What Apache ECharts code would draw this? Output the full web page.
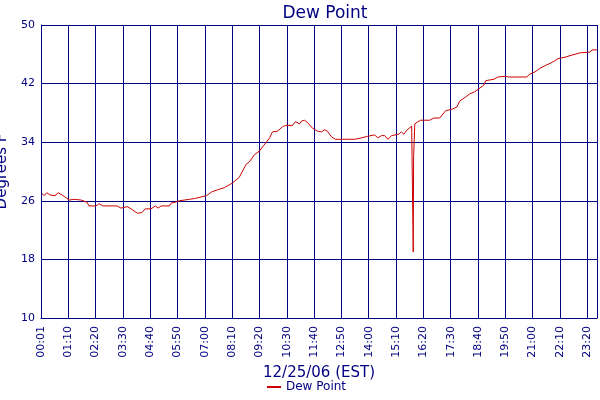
<!DOCTYPE html>
<html><head><meta charset="utf-8">
<script src="https://cdn.jsdelivr.net/npm/echarts@6/dist/echarts.min.js"></script>
<style>html,body{margin:0;padding:0;background:#fff}#c{width:600px;height:400px}</style>
</head><body><div id="c"></div>
<script>
var minutes = [1,8,15,23,36,44,54,62,72,85,103,118,123,141,149,159,195,205,221,231,247,259,267,282,293,300,308,329,334,344,354,380,393,424,437,452,470,490,508,526,534,547,560,570,586,593,606,619,627,645,652,663,668,675,683,696,709,719,727,734,745,755,773,804,822,837,855,863,873,881,889,899,917,924,930,937,950,951,952,953,954,955,957,958,966,973,996,1007,1022,1037,1053,1066,1073,1089,1099,1112,1125,1135,1140,1161,1171,1189,1192,1199,1245,1253,1266,1279,1294,1310,1325,1343,1361,1382,1407,1412,1425];
var dewPoint = [27.1,26.7,27.1,26.8,26.7,27.1,26.8,26.5,26.1,26.2,26.1,25.8,25.3,25.3,25.6,25.3,25.3,25.0,25.2,24.9,24.3,24.4,24.9,24.9,25.3,25.0,25.3,25.3,25.7,25.8,26.0,26.2,26.3,26.7,27.2,27.5,27.8,28.4,29.2,31.0,31.3,32.3,32.8,33.5,34.6,35.4,35.5,36.1,36.3,36.3,36.8,36.5,36.9,37.0,36.7,35.9,35.5,35.4,35.7,35.5,34.7,34.4,34.4,34.4,34.6,34.8,35.0,34.6,34.9,34.9,34.4,34.9,35.1,35.4,35.1,35.6,36.2,32.0,32.0,23.4,19.0,32.0,32.0,36.5,36.8,37.0,37.0,37.3,37.3,38.3,38.5,38.8,39.6,40.2,40.6,40.9,41.4,41.8,42.4,42.6,42.9,43.0,43.1,42.9,42.9,43.3,43.6,44.1,44.5,44.9,45.4,45.6,45.9,46.2,46.3,46.6,46.6];
var xTicks = [1,70,140,210,280,350,420,490,560,630,700,770,840,910,980,1050,1120,1190,1260,1330,1400,1425];
var yTicks = [10,18,26,34,42,50];
var navy = '#000080';
var chart = echarts.init(document.getElementById('c'));
var data = minutes.map(function(m,i){return [m, dewPoint[i]];});
function fmt(v){ var h=Math.floor(v/60), m=v%60; return (h<10?'0':'')+h+':'+(m<10?'0':'')+m; }
chart.setOption({
  animation:false,
  title:{text:'Dew Point',left:320,top:0,textAlign:'center',textStyle:{color:navy,fontFamily:'DejaVu Sans',fontSize:17,fontWeight:'normal'}},
  grid:{left:41,right:3,top:25,bottom:82,containLabel:false,outerBoundsMode:'none'},
  legend:{bottom:2,left:262,itemWidth:14,itemHeight:2,icon:'rect',textStyle:{color:navy,fontFamily:'DejaVu Sans',fontSize:12},data:['Dew Point']},
  xAxis:{type:'value',min:0,max:1425,
    name:'12/25/06 (EST)',nameLocation:'middle',nameGap:48,nameTextStyle:{color:navy,fontFamily:'DejaVu Sans',fontSize:15},
    axisLine:{lineStyle:{color:navy,width:1}},axisTick:{show:false,customValues:xTicks},
    axisLabel:{rotate:90,color:navy,fontFamily:'DejaVu Sans',fontSize:11,customValues:xTicks,hideOverlap:false,formatter:fmt},
    splitLine:{show:true,lineStyle:{color:navy,width:1}}},
  yAxis:{type:'value',min:yTicks[0],max:yTicks[yTicks.length-1],interval:8,
    name:'Degrees F',nameLocation:'middle',nameGap:24,nameTextStyle:{color:navy,fontFamily:'DejaVu Sans',fontSize:15},
    axisLine:{show:true,lineStyle:{color:navy,width:1}},axisTick:{show:false},
    axisLabel:{color:navy,fontFamily:'DejaVu Sans',fontSize:11,margin:6},
    splitLine:{show:true,lineStyle:{color:navy,width:1}}},
  series:[{name:'Dew Point',type:'line',data:data,symbol:'none',lineStyle:{color:'#cc0000',width:1},itemStyle:{color:'#cc0000'},
    markLine:{silent:true,symbol:'none',label:{show:false},lineStyle:{color:navy,type:'solid',width:1},data:[{xAxis:1}]}}]
});
</script></body></html>
